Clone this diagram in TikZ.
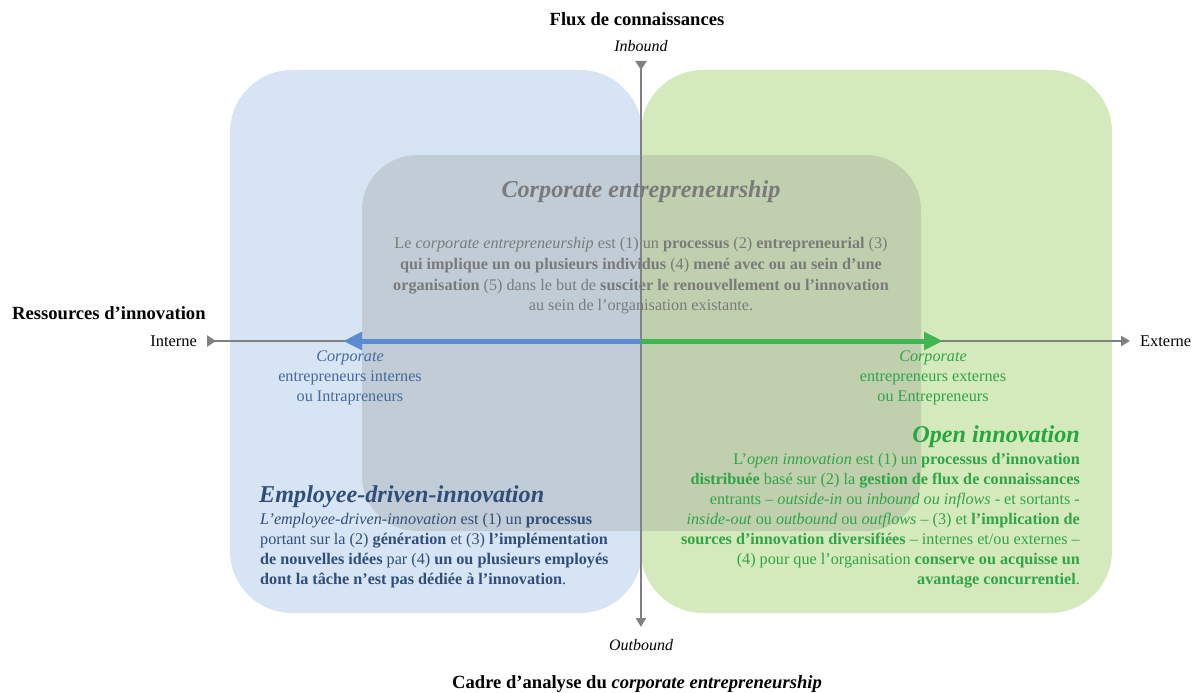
\documentclass[tikz,border=0pt]{standalone}
\usepackage{fontspec}
\setmainfont{Liberation Serif}
\usetikzlibrary{arrows.meta}
\definecolor{boxblue}{RGB}{214,228,243}
\definecolor{boxgreen}{RGB}{212,234,188}
\definecolor{axisgray}{RGB}{128,128,128}
\definecolor{overgray}{RGB}{140,140,140}
\definecolor{arrblue}{RGB}{91,139,208}
\definecolor{arrgreen}{RGB}{64,182,82}
\definecolor{txtblue}{RGB}{47,79,122}
\definecolor{lblblue}{RGB}{68,106,156}
\definecolor{txtgreen}{RGB}{48,164,70}
\definecolor{ttlgreen}{RGB}{36,166,64}
\definecolor{txtgray}{RGB}{122,122,122}
\tikzset{
  quadbox/.style={rounded corners=62pt},
  axisline/.style={draw=axisgray, line width=2.6pt,
    {Triangle[reversed,length=9pt,width=11pt]}-{Triangle[length=9pt,width=10pt]}},
  bigarrow/.style={line width=5pt, -{Triangle[length=19pt,width=17pt]}},
  plain/.style={inner sep=0pt, font=\fontsize{16.2}{20}\selectfont},
  heading/.style={inner sep=0pt, font=\fontsize{18.6}{22}\selectfont\bfseries},
  axlabel/.style={inner sep=0pt, font=\fontsize{16.4}{18}\selectfont},
  bigtitle/.style={inner sep=0pt, font=\fontsize{24.2}{28}\selectfont\bfseries\itshape},
}
\begin{document}
\begin{tikzpicture}[x=1pt,y=-1pt]
\useasboundingbox (0,0) rectangle (1197,693);
% quadrant boxes
\fill[boxblue, quadbox] (230,70) rectangle (642,613);
\fill[boxgreen, quadbox] (641,70) rectangle (1112,613);
% axes
\coordinate (vtop) at (641,61);
\coordinate (vbot) at (641,627);
\coordinate (hleft) at (207,341);
\coordinate (hright) at (1130,341);
\coordinate (origin) at (641,341);
\draw[axisline] (vtop) -- (vbot);
\draw[axisline] (hleft) -- (hright);
% central grey box
\fill[overgray, fill opacity=0.27, rounded corners=55pt] (362,155) rectangle (921,531);
% coloured arrows
\coordinate (bluetip) at (343,341);
\coordinate (greentip) at (943,341);
\draw[bigarrow, arrblue] (origin) -- (bluetip);
\draw[bigarrow, arrgreen] (origin) -- (greentip);
% axis texts
\node[heading] (flux) at (637,19) {Flux de connaissances};
\node[axlabel, font=\fontsize{16}{18}\selectfont\itshape] (inb) at (641,46) {Inbound};
\node[axlabel, font=\fontsize{16}{18}\selectfont\itshape] (outb) at (641,645) {Outbound};
\node[heading] (cadre) at (637,684) {Cadre d’analyse du \textit{corporate entrepreneurship}};
\node[heading, anchor=west] (ress) at (12,313) {Ressources d’innovation};
\node[axlabel, anchor=east] (interne) at (197,341) {Interne};
\node[axlabel, anchor=west] (externe) at (1140,341) {Externe};
% corporate entrepreneurship
\node[bigtitle, text=txtgray] (cetitle) at (641,192) {Corporate entrepreneurship};
\node[plain, text=txtgray, align=center, font=\fontsize{16.2}{20.7}\selectfont] (cebody) at (641,276) {Le \textit{corporate entrepreneurship} est (1) un \textbf{processus} (2) \textbf{entrepreneurial} (3)\\
\textbf{qui implique un ou plusieurs individus} (4) \textbf{mené avec ou au sein d’une}\\
\textbf{organisation} (5) dans le but de \textbf{susciter le renouvellement ou l’innovation}\\
au sein de l’organisation existante.};
% arrow labels
\node[plain, text=lblblue, align=center] (intlab) at (350,378) {\textit{Corporate}\\entrepreneurs internes\\ou Intrapreneurs};
\node[plain, text=txtgreen, align=center] (extlab) at (933,378) {\textit{Corporate}\\entrepreneurs externes\\ou Entrepreneurs};
% open innovation
\node[bigtitle, text=ttlgreen, anchor=east] (oititle) at (1080,437) {Open innovation};
\node[plain, text=txtgreen, align=right, anchor=east] (oibody) at (1080,521) {L’\textit{open innovation} est (1) un \textbf{processus d’innovation}\\
\textbf{distribuée} basé sur (2) la \textbf{gestion de flux de connaissances}\\
entrants – \textit{outside-in} ou \textit{inbound ou inflows} - et sortants -\\
\textit{inside-out} ou \textit{outbound} ou \textit{outflows} – (3) et \textbf{l’implication de}\\
\textbf{sources d’innovation diversifiées} – internes et/ou externes –\\
(4) pour que l’organisation \textbf{conserve ou acquisse un}\\
\textbf{avantage concurrentiel}.};
% employee-driven-innovation
\node[bigtitle, text=txtblue, anchor=west] (edititle) at (259,497) {Employee-driven-innovation};
\node[plain, text=txtblue, align=left, anchor=west] (edibody) at (260,551) {\textit{L’employee-driven-innovation} est (1) un \textbf{processus}\\
portant sur la (2) \textbf{génération} et (3) \textbf{l’implémentation}\\
\textbf{de nouvelles idées} par (4) \textbf{un ou plusieurs employés}\\
\textbf{dont la tâche n’est pas dédiée à l’innovation}.};
\end{tikzpicture}
\end{document}
